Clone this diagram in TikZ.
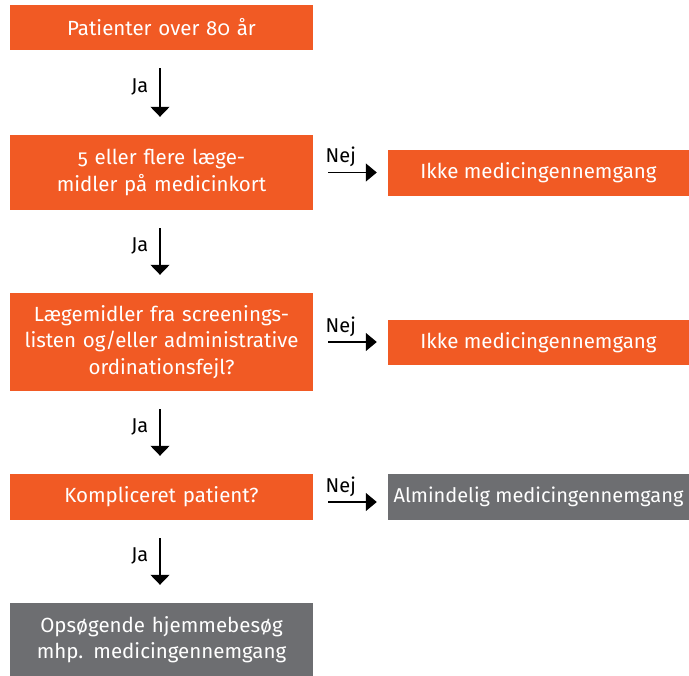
\documentclass[tikz,border=0pt]{standalone}
\usepackage{fontspec}
\setmainfont[Numbers=OldStyle]{Fira Sans}
\usetikzlibrary{arrows.meta}
\definecolor{orng}{RGB}{241,90,36}
\definecolor{gry}{RGB}{109,110,113}
\tikzset{
  base/.style={fill=orng, text=white, inner sep=0pt, align=center,
    font=\fontsize{20.5}{26.5}\selectfont},
  box/.style={base, text width=298pt},
  gbox/.style={box, fill=gry},
  rbox/.style={base},
  rgbox/.style={base, fill=gry, font=\fontsize{20}{26.5}\selectfont},
  arr/.style={-{Triangle[width=19pt,length=10pt]}, line width=1.3pt},
  harr/.style={-{Triangle[width=18pt,length=11pt]}, line width=1.3pt},
  lbl/.style={font=\fontsize{20}{22}\selectfont, inner sep=0pt}
}
\begin{document}
\begin{tikzpicture}[x=1pt,y=-1pt]
\useasboundingbox (0,0) rectangle (689,676);
\node[box, minimum width=303pt, minimum height=45pt] (b1) at (161.5,27.5) {Patienter over 80 år};
\node[box, minimum width=303pt, minimum height=75pt] (b2) at (161.5,172.5) {5 eller flere læge-\\midler på medicinkort};
\node[box, minimum width=303pt, minimum height=98pt] (b3) at (161.5,342) {Lægemidler fra screenings-\\listen og/eller administrative\\ordinationsfejl?};
\node[box, minimum width=303pt, minimum height=46pt] (b4) at (161.5,497) {Kompliceret patient?};
\node[gbox, minimum width=303pt, minimum height=73pt] (b5) at (161.5,639.5) {Opsøgende hjemmebesøg\\mhp. medicingennemgang};
\node[rbox, minimum width=301pt, minimum height=46pt] (r1) at (538.5,173) {Ikke medicingennemgang};
\node[rbox, minimum width=301pt, minimum height=45pt] (r2) at (538.5,342.5) {Ikke medicingennemgang};
\node[rgbox, minimum width=301pt, minimum height=46pt] (r3) at (538.5,497) {Almindelig medicingennemgang};

\draw[arr, shorten <=18pt, shorten >=18pt] ([xshift=-1.5pt]b1.south) -- ([xshift=-1.5pt]b2.north) node[lbl, midway, left=11pt, yshift=6pt] {Ja};
\draw[arr, shorten <=18pt, shorten >=18pt] ([xshift=-1.5pt]b2.south) -- ([xshift=-1.5pt]b3.north) node[lbl, midway, left=11pt, yshift=6pt] {Ja};
\draw[arr, shorten <=18pt, shorten >=18pt] ([xshift=-1.5pt]b3.south) -- ([xshift=-1.5pt]b4.north) node[lbl, midway, left=11pt, yshift=6pt] {Ja};
\draw[arr, shorten <=18pt, shorten >=18pt] ([xshift=-1.5pt]b4.south) -- ([xshift=-1.5pt]b5.north) node[lbl, midway, left=11pt, yshift=6pt] {Ja};

\draw[harr, shorten <=15pt, shorten >=11pt] (b2.east) -- (b2.east -| r1.west) node[lbl, pos=0.37, above=5pt] {Nej};
\draw[harr, shorten <=15pt, shorten >=11pt] (b3.east) -- (b3.east -| r2.west) node[lbl, pos=0.37, above=5pt] {Nej};
\draw[harr, shorten <=15pt, shorten >=11pt] ([yshift=-5pt]b4.east) -- ([yshift=-5pt]b4.east -| r3.west) node[lbl, pos=0.37, above=5pt] {Nej};
\end{tikzpicture}
\end{document}
